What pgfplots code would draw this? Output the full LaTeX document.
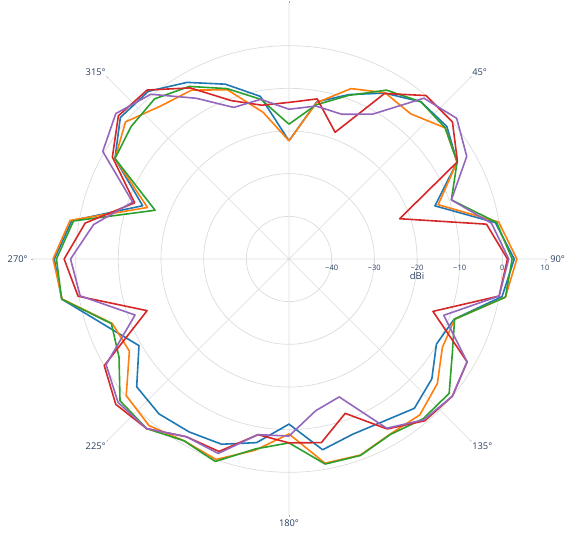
\documentclass[border=0pt]{standalone}
\usepackage{pgfplots}
\pgfplotsset{compat=1.18}
\usepgfplotslibrary{polar}
\usepackage{pgfplotstable}
\usepackage{fontspec}
\setmainfont{Open Sans}
\definecolor{pblue}{HTML}{1F77B4}
\definecolor{porange}{HTML}{FF7F0E}
\definecolor{pgreen}{HTML}{2CA02C}
\definecolor{pred}{HTML}{D62728}
\definecolor{ppurple}{HTML}{9467BD}
\definecolor{gridc}{HTML}{DCDCDC}
\definecolor{tickc}{HTML}{AAAAAA}
\definecolor{txt}{HTML}{2A3F5F}

\pgfplotstableread{
th blue orange green red purple
0 -22.3 -22.3 -18.4 -13.3 -14.9
10 -12.6 -12.8 -13.3 -11.9 -13.6
20 -9.0 -7.5 -9.2 -18.4 -13.9
30 -5.1 -5.0 -4.3 -5.2 -10.8
40 -1.9 -5.6 -1.9 0.0 -0.8
50 -1.7 -2.2 -2.2 0.0 1.3
60 -4.5 -4.5 -4.5 -4.4 -1.9
70 -13.6 -12.8 -9.5 -22.4 -9.5
80 -0.9 -0.1 -0.6 -3.0 -1.8
90 2.8 3.4 2.3 1.2 1.5
100 0.7 1.5 1.5 0.0 0.0
110 -8.8 -8.7 -8.7 -14.1 -11.4
120 -10.1 -8.5 -5.8 -1.8 -1.8
130 -6.3 -4.6 -1.0 0.0 0.0
140 -4.3 -2.3 -1.1 -0.5 -0.8
150 -6.0 -2.6 -2.5 -4.0 -4.2
160 -6.3 -1.1 -1.0 -11.5 -15.6
170 -4.6 -1.4 -1.2 -6.3 -13.9
180 -11.3 -9.0 -6.9 -6.9 -8.5
190 -6.3 -4.5 -4.8 -8.2 -8.2
200 -3.8 0.0 0.5 -2.0 -1.5
210 -3.2 -0.8 -0.8 -1.9 -1.9
220 -2.6 1.0 1.9 1.9 1.9
230 -3.4 -0.2 1.7 3.0 2.3
240 -9.4 -6.8 -4.0 0.0 -0.5
250 -4.3 -5.9 -5.7 -14.6 -11.6
260 4.1 4.0 4.1 0.2 -0.3
270 5.0 5.3 4.5 2.7 1.2
280 1.7 2.1 1.3 -1.5 -3.5
290 -13.5 -14.7 -16.6 -11.5 -11.0
300 -2.9 -2.9 -2.9 -2.2 0.4
310 1.6 0.0 -1.7 2.2 3.0
320 1.3 -3.2 -1.0 1.7 0.4
330 -2.2 -4.3 -3.3 -3.7 -6.5
340 -6.4 -7.8 -7.5 -10.5 -12.2
350 -11.3 -15.1 -12.0 -13.4 -12.0
360 -22.3 -22.3 -18.4 -13.3 -14.9
}\data

\begin{document}
\begin{tikzpicture}
\begin{polaraxis}[
  scale only axis, width=512pt, height=512pt,
  clip=false,
  ymin=0, ymax=60,
  xtick={0,45,...,315},
  xticklabels={},
  ytick={10,20,30,40,50},
  yticklabels={},
  extra y ticks={60}, extra y tick labels={},
  extra y tick style={grid=none},
  grid=major,
  major grid style={gridc, line width=0.7pt},
  axis line style={draw=none},
  tick style={draw=none},
  every axis plot/.append style={line width=1.6pt, line join=round, no markers},
]
\coordinate (c) at (axis cs:0,0);
\foreach \a in {0,45,...,315}{
  \edef\tmp{\noexpand\draw[tickc, line width=0.6pt] (axis cs:\a,60) -- (axis cs:\a,60.5);}
  \tmp
}
\addplot[pblue] table[x expr={90-\thisrow{th}}, y expr={\thisrow{blue}+50}] {\data};
\addplot[porange] table[x expr={90-\thisrow{th}}, y expr={\thisrow{orange}+50}] {\data};
\addplot[pgreen] table[x expr={90-\thisrow{th}}, y expr={\thisrow{green}+50}] {\data};
\addplot[pred] table[x expr={90-\thisrow{th}}, y expr={\thisrow{red}+50}] {\data};
\addplot[ppurple] table[x expr={90-\thisrow{th}}, y expr={\thisrow{purple}+50}] {\data};
\foreach \r/\l in {10/−40,20/−30,30/−20,40/−10,50/0,60/10}{
  \edef\tmp{\noexpand\draw[gridc, line width=0.7pt] (axis cs:0,\r) -- ++(0,-4pt);
    \noexpand\node[txt, font=\noexpand\fontsize{7.5}{9}\noexpand\selectfont, anchor=north, inner sep=1pt] at ([yshift=-5pt]axis cs:0,\r) {\l};}
  \tmp
}
\begin{scope}[every node/.style={txt, font=\fontsize{9.3}{11}\selectfont, inner sep=0pt}]
\node[anchor=west] at (axis cs:0,61.2) {90°};
\node[anchor=south west] at (axis cs:45,60.7) {45°};
\node[anchor=south east] at (axis cs:135,60.7) {315°};
\node[anchor=east] at (axis cs:180,61.2) {270°};
\node[anchor=north east] at (axis cs:225,60.7) {225°};
\node[anchor=north] at (axis cs:270,61.0) {180°};
\node[anchor=north west] at (axis cs:315,60.7) {135°};
\end{scope}
\node[txt, font=\fontsize{9.5}{11}\selectfont] at ([yshift=-17pt]axis cs:0,30) {dBi};
\end{polaraxis}
\pgfresetboundingbox
\path ([shift={(-289pt,-278pt)}]c) rectangle ([shift={(276pt,259pt)}]c);
\end{tikzpicture}
\end{document}
